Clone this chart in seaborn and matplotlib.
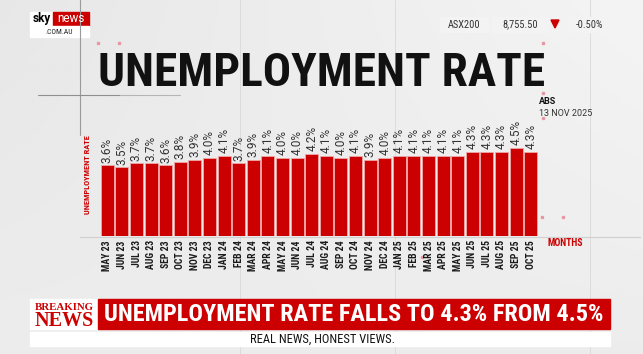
import matplotlib
matplotlib.use("Agg")
import matplotlib.pyplot as plt
import seaborn as sns
import numpy as np
import pandas as pd
from matplotlib.patches import Rectangle, Polygon

months = ["MAY 23", "JUN 23", "JUL 23", "AUG 23", "SEP 23", "OCT 23", "NOV 23", "DEC 23",
          "JAN 24", "FEB 24", "MAR 24", "APR 24", "MAY 24", "JUN 24", "JUL 24", "AUG 24",
          "SEP 24", "OCT 24", "NOV 24", "DEC 24", "JAN 25", "FEB 25", "MAR 25", "APR 25",
          "MAY 25", "JUN 25", "JUL 25", "AUG 25", "SEP 25", "OCT 25"]
rates = [3.6, 3.5, 3.7, 3.7, 3.6, 3.8, 3.9, 4.0, 4.1, 3.7, 3.9, 4.1, 4.0, 4.0, 4.2, 4.1,
         4.0, 4.1, 3.9, 4.0, 4.1, 4.1, 4.1, 4.1, 4.1, 4.3, 4.3, 4.3, 4.5, 4.3]
title = "UNEMPLOYMENT RATE"
y_label = "UNEMPLOYMENT RATE"
x_label = "MONTHS"
source = "ABS"
source_date = "13 NOV 2025"
headline = "UNEMPLOYMENT RATE FALLS TO 4.3% FROM 4.5%"
tagline = "REAL NEWS, HONEST VIEWS."
ticker = ["ASX200", "8,755.50", "-0.50%"]

df = pd.DataFrame({"month": months, "rate": rates})

sns.set_theme(style="white")
COND = ["Roboto Condensed", "DejaVu Sans"]
ROBO = ["Roboto", "DejaVu Sans"]
SERIF = ["Liberation Serif", "DejaVu Serif"]
RED = "#cc0000"

W, H = 643, 354
fig = plt.figure(figsize=(W / 100, H / 100), dpi=100)

# background gradient
bg = fig.add_axes([0, 0, 1, 1], zorder=-5)
xx = np.linspace(0, 1, 300)
yy = np.linspace(0, 1, 200)
X, Y = np.meshgrid(xx, yy)
img = 0.905 + 0.05 * X * (1 - Y) + 0.02 * Y
bg.imshow(img, cmap="gray", vmin=0, vmax=1, extent=[0, W, H, 0], aspect="auto")
bg.set_xlim(0, W)
bg.set_ylim(H, 0)
bg.axis("off")
# decorative lines
for xv in [240, 395, 590]:
    bg.plot([xv, xv], [0, 354], color="#d8d8d8", lw=0.6, zorder=1)
bg.plot([80, 80], [0, 135], color="#9a9a9a", lw=0.8)
bg.plot([38, 120], [95, 95], color="#8f8f8f", lw=0.8)
bg.plot([120, 180], [95, 95], color="#b5b5b5", lw=0.8)
bg.plot([80, 640], [237, 237], color="#cfcfcf", lw=0.8)
for (px, py) in [(98, 43), (119, 43), (543, 43), (543, 93), (543, 118), (542, 217), (563, 217), (422, 257)]:
    bg.plot(px, py, "s", ms=2, color="#e88a9a", alpha=0.8)

# logo
bg.add_patch(Rectangle((30, 12), 23, 14, color="white"))
bg.add_patch(Rectangle((53, 12), 36, 14, color=RED))
bg.add_patch(Rectangle((30, 26), 59, 11, color="white"))
bg.text(41.5, 18.8, "sky", ha="center", va="center", fontsize=8.5, fontweight="bold",
        color="black", family=ROBO)
bg.text(71, 18.6, "news", ha="center", va="center", fontsize=8.5, color="white",
        family=ROBO)
bg.text(59.5, 31.5, ".COM.AU", ha="center", va="center", fontsize=5.5, color="#222",
        family=COND)

# ticker
for (x0, x1), t in zip([(440, 488), (492, 549), (568, 611)], ticker):
    bg.add_patch(Rectangle((x0, 17), x1 - x0, 15, color="#f3f3f3"))
    bg.text((x0 + x1) / 2, 24.5, t, ha="center", va="center", fontsize=7.5, color="#333",
            family=COND)
bg.add_patch(Polygon([[551, 20], [559, 20], [555, 28]], color=RED))

# title
bg.text(322, 73, title, ha="center", va="center", fontsize=34, fontweight="bold",
        color="#111111", family=COND)

# source
bg.text(539, 101, source, ha="left", va="center", fontsize=6.5, fontweight="bold",
        color="#111", family=ROBO)
bg.text(539, 114, source_date, ha="left", va="center", fontsize=6.5, color="#333",
        family=ROBO)

# breaking news banner
bg.add_patch(Rectangle((30, 299), 68, 30, color="white"))
bg.add_patch(Rectangle((98, 299), 512, 30, color=RED))
bg.add_patch(Rectangle((30, 332), 580, 14, color="white"))
bg.text(64, 307, "BREAKING", ha="center", va="center", fontsize=7.8, fontweight="bold",
        color=RED, family=SERIF)
bg.text(64, 320.5, "NEWS", ha="center", va="center", fontsize=14.5, fontweight="bold",
        color=RED, family=SERIF)
bg.text(354, 314.5, headline, ha="center", va="center", fontsize=17.5, fontweight="bold",
        color="white", family=COND)
bg.text(322, 339, tagline, ha="center", va="center", fontsize=9, color="#111",
        family=COND)

# bar chart
ax_l, ax_r = 100 / W, 538 / W
ax_b = 1 - 236 / H
ax = fig.add_axes([ax_l, ax_b, ax_r - ax_l, 117.6 / H])
ax.set_facecolor("none")
sns.barplot(data=df, x="month", y="rate", color=RED, saturation=1, width=0.9,
            edgecolor="#f0a8a8", linewidth=0.6, ax=ax)
ax.set_xlim(-0.5, len(months) - 0.5)
ax.set_ylim(0, 6)
for i, v in enumerate(rates):
    ax.text(i, v + 0.13, f"{v:.1f}%", rotation=90, ha="center", va="bottom",
            fontsize=8.5, color="#333333", family=ROBO)
ax.set_xticks(range(len(months)))
ax.set_xticklabels(months, rotation=90, fontsize=7, fontweight="bold", color="#1a1a1a",
                   family=COND)
ax.tick_params(axis="x", length=0, pad=3)
ax.set_yticks([])
ax.set_xlabel("")
ax.set_ylabel("")
for s in ax.spines.values():
    s.set_visible(False)

bg.text(87, 175, y_label, rotation=90, ha="center", va="center", fontsize=6,
        fontweight="bold", color=RED, family=COND)
bg.text(548, 243, x_label, ha="left", va="center", fontsize=7, fontweight="bold",
        color=RED, family=COND)

fig.savefig("out.png", dpi=100)
